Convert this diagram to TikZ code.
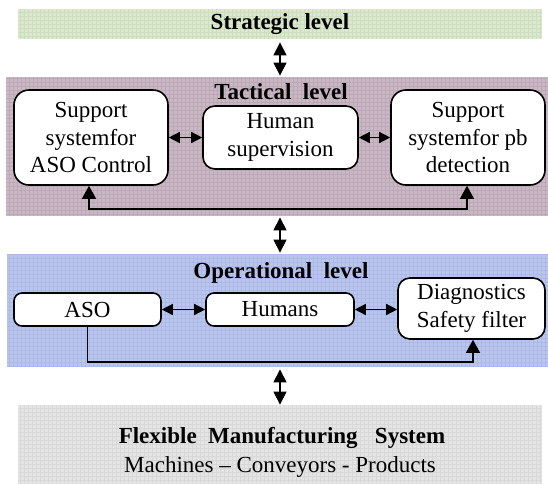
\documentclass[tikz,border=0pt]{standalone}
\usepackage{fontspec}
\setmainfont{Liberation Serif}
\usetikzlibrary{arrows.meta}
\definecolor{sfill}{RGB}{219,232,205}
\definecolor{sgrid}{RGB}{205,222,190}
\definecolor{tfill}{RGB}{202,184,197}
\definecolor{tgrid}{RGB}{188,167,183}
\definecolor{ofill}{RGB}{187,198,237}
\definecolor{ogrid}{RGB}{172,184,230}
\definecolor{gfill}{RGB}{228,228,228}
\definecolor{ggrid}{RGB}{216,216,216}
\tikzset{
  bandS/.style={fill=sfill, inner sep=0pt, path picture={\draw[sgrid, line width=0.25pt, step=2pt] (path picture bounding box.south west) grid (path picture bounding box.north east);}},
  bandT/.style={fill=tfill, inner sep=0pt, path picture={\draw[tgrid, line width=0.25pt, step=2pt] (path picture bounding box.south west) grid (path picture bounding box.north east);}},
  bandO/.style={fill=ofill, inner sep=0pt, path picture={\draw[ogrid, line width=0.25pt, step=2pt] (path picture bounding box.south west) grid (path picture bounding box.north east);}},
  bandG/.style={fill=gfill, inner sep=0pt, path picture={\draw[ggrid, line width=0.25pt, step=2pt] (path picture bounding box.south west) grid (path picture bounding box.north east);}},
  bigbox/.style={draw, fill=white, line width=0.8pt, rounded corners=7.5pt, inner sep=0pt, align=center, font=\fontsize{11.5}{13.8}\selectfont},
  smallbox/.style={draw, fill=white, line width=0.8pt, rounded corners=4pt, inner sep=0pt, align=center, font=\fontsize{11.5}{13.8}\selectfont},
  ttl/.style={inner sep=0pt, font=\fontsize{11.5}{13.8}\selectfont\bfseries},
  plain/.style={inner sep=0pt, font=\fontsize{11.5}{13.8}\selectfont},
  vbig/.style={line width=0.6pt, {Triangle[width=6.5pt,length=6.5pt]}-{Triangle[width=6.5pt,length=6.5pt]}},
  hsm/.style={line width=0.7pt, {Triangle[width=5.5pt,length=5.5pt]}-{Triangle[width=5.5pt,length=5.5pt]}},
  fb/.style={line width=0.7pt},
  fbhead/.tip={Triangle[width=7pt,length=6.5pt]},
}
\begin{document}
\begin{tikzpicture}[x=0.5pt,y=-0.5pt]
\useasboundingbox (0,0) rectangle (548,484);
% bands
\node[bandS, minimum width=262pt, minimum height=15pt] (strat) at (280,24) {};
\node[ttl] (strattxt) at (280,24) {Strategic level};
\node[bandT, minimum width=271pt, minimum height=69.5pt] (tact) at (277,146.5) {};
\node[bandO, minimum width=270.5pt, minimum height=56.5pt] (oper) at (277.5,310.5) {};
\node[bandG, minimum width=262pt, minimum height=39.5pt] (fms) at (280,444.5) {};
% titles
\node[ttl] (tacttxt) at (281,92) {Tactical\ \ level};
\node[ttl] (opertxt) at (281,273) {Operational\ \ level};
\node[ttl] (fmstxt) at (282,438) {Flexible\ \ Manufacturing\ \ \ System};
\node[plain] (fmssub) at (280,467) {Machines -- Conveyors - Products};
% tactical boxes
\node[bigbox, minimum width=77pt, minimum height=47.5pt] (A) at (91,137.5) {Support\\systemfor\\ASO Control};
\node[bigbox, minimum width=77.5pt, minimum height=31.5pt, rounded corners=6pt] (H) at (280.5,137.5) {Human\\supervision};
\node[bigbox, minimum width=77pt, minimum height=47.5pt] (P) at (468,137.5) {Support\\systemfor pb\\detection};
% operational boxes
\node[smallbox, minimum width=73.5pt, minimum height=16.5pt] (aso) at (87.5,309.5) {ASO};
\node[smallbox, minimum width=74pt, minimum height=16.5pt] (hum) at (280,309.5) {Humans};
\node[bigbox, minimum width=73.5pt, minimum height=30.5pt, rounded corners=6pt] (diag) at (471.5,308.5) {Diagnostics\\Safety filter};
% connectors between bands
\draw[vbig] ([yshift=-1.5pt]strat.south) -- ([yshift=0.5pt]strat.south |- tact.north);
\draw[vbig] ([yshift=-0.5pt]strat.south |- tact.south) -- ([yshift=0.5pt]strat.south |- oper.north);
\draw[vbig] ([yshift=-1pt]strat.south |- oper.south) -- ([yshift=0pt]strat.south |- fms.north);
% horizontal
\draw[hsm] (A.east) -- (H.west);
\draw[hsm] (H.east) -- (P.west);
\draw[hsm] (aso.east) -- (hum.west);
\draw[hsm] (hum.east) -- (diag.west |- hum.east);
% feedback loops
\coordinate (fbT) at (280,209);
\coordinate (fbO) at (280,362);
\draw[fb, fbhead-fbhead] ([xshift=-1pt]A.south) |- (fbT) -| ([xshift=-0.5pt]P.south);
\draw[fb, -fbhead] (aso.south) |- (fbO) -| ([xshift=0.75pt]diag.south);
\end{tikzpicture}
\end{document}
